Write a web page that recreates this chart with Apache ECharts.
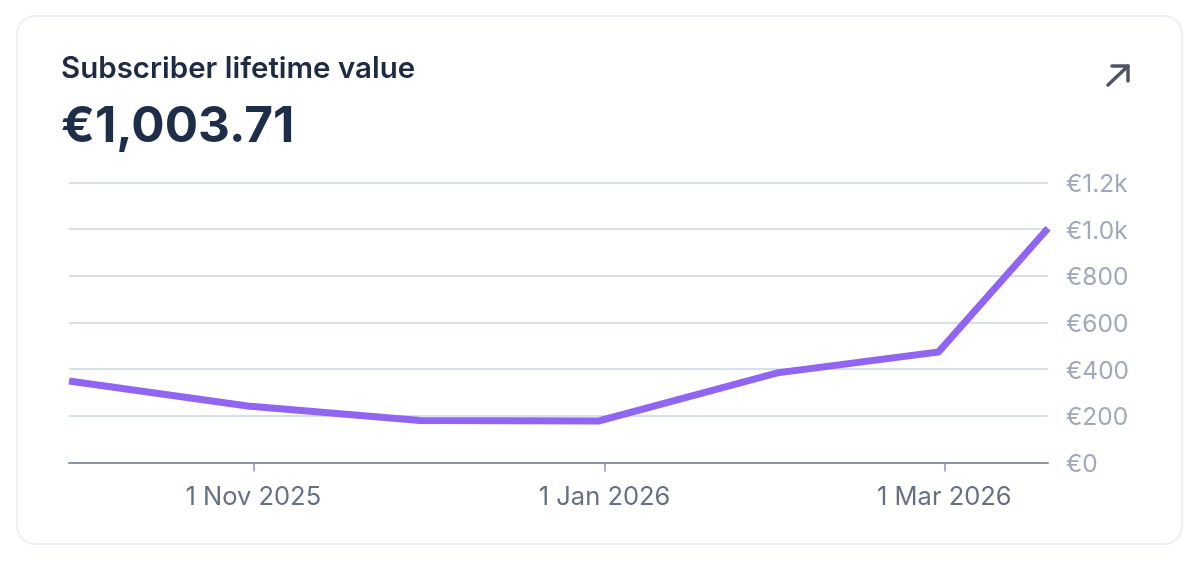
<!DOCTYPE html>
<html>

<head>
    <meta charset="UTF-8">
    <title>Subscriber lifetime value</title>
    <style>
        html, body { margin: 0; padding: 0; background: #fff; }
        #container { width: 1200px; height: 565px; }
    </style>
</head>

<body>
    <div id="container"></div>
    <script src="https://cdn.jsdelivr.net/npm/echarts@6/dist/echarts.min.js"></script>
    <script type="text/javascript">
        // data points sit on month ends, the last one on the latest day
        var dates = ['2025-09-30', '2025-10-31', '2025-11-30', '2025-12-31', '2026-01-31', '2026-02-28', '2026-03-19'];
        var ltv = [349, 242, 180, 178, 384, 474, 1003.71];

        var xTickDates = ['2025-11-01', '2026-01-01', '2026-03-01'];
        var xTickLabels = ['1 Nov 2025', '1 Jan 2026', '1 Mar 2026'];
        var yTicks = [0, 200, 400, 600, 800, 1000, 1200];
        var yTickLabels = ['€0', '€200', '€400', '€600', '€800', '€1.0k', '€1.2k'];

        var cardTitle = 'Subscriber lifetime value';
        var cardValue = '€1,003.71';

        function toTime(s) {
            var p = s.split('-');
            return Date.UTC(+p[0], +p[1] - 1, +p[2]);
        }

        var xTickTimes = xTickDates.map(toTime);
        var fontName = 'Inter';

        var myChart = echarts.init(document.getElementById('container'));
        var option = {
            backgroundColor: '#fff',
            animation: false,
            title: [{
                text: cardTitle,
                left: 61,
                top: 54,
                padding: 0,
                textStyle: { color: '#1e2b42', fontFamily: fontName, fontWeight: 600, fontSize: 29.5 }
            }, {
                text: cardValue,
                left: 61,
                top: 102,
                padding: 0,
                textStyle: { color: '#1e2e48', fontFamily: fontName, fontWeight: 700, fontSize: 49.5 }
            }],
            graphic: [{
                type: 'rect', // the card
                z: -10,
                silent: true,
                shape: { x: 17, y: 16, width: 1165, height: 528, r: 18 },
                style: { fill: '#fff', stroke: '#eceff3', lineWidth: 2 }
            }, {
                type: 'polyline', // arrow shaft
                silent: true,
                shape: { points: [[1108, 85], [1128, 66]] },
                style: { stroke: '#4f5563', lineWidth: 3.5, lineCap: 'round', fill: null }
            }, {
                type: 'polyline', // arrow head
                silent: true,
                shape: { points: [[1112, 66], [1128, 66], [1128, 81]] },
                style: { stroke: '#4f5563', lineWidth: 3.5, lineCap: 'round', lineJoin: 'round', fill: null }
            }],
            grid: { left: 69, right: 152, top: 182.5, bottom: 102.5, containLabel: false },
            tooltip: { show: false },
            xAxis: {
                // plain value axis on timestamps, the time axis throws on customValues
                type: 'value',
                scale: true,
                min: toTime(dates[0]),
                max: toTime(dates[dates.length - 1]),
                axisLine: { show: true, onZero: false, lineStyle: { color: '#8d94a9', width: 2 } },
                axisTick: {
                    show: true,
                    length: 9,
                    customValues: xTickTimes,
                    lineStyle: { color: '#8d94a9', width: 1.5 }
                },
                axisLabel: {
                    show: true,
                    customValues: xTickTimes,
                    margin: 22,
                    hideOverlap: false,
                    color: '#667085',
                    fontFamily: fontName,
                    fontSize: 25.5,
                    formatter: function (value) {
                        return xTickLabels[xTickTimes.indexOf(value)];
                    }
                },
                splitLine: { show: false }
            },
            yAxis: {
                type: 'value',
                position: 'right',
                min: yTicks[0],
                max: yTicks[yTicks.length - 1],
                interval: 200,
                axisLine: { show: false },
                axisTick: { show: false },
                axisLabel: {
                    margin: 18,
                    formatter: function (value) {
                        return '{tick|' + yTickLabels[yTicks.indexOf(value)] + '}';
                    },
                    rich: {
                        // top padding nudges the text a little below its grid line
                        tick: {
                            padding: [4, 0, 0, 0],
                            color: '#9fa9bb',
                            fontFamily: fontName,
                            fontSize: 24.5
                        }
                    }
                },
                splitLine: { show: true, lineStyle: { color: '#d7e0ea', width: 2 } }
            },
            series: [{
                name: cardTitle,
                type: 'line',
                data: dates.map(function (d, i) { return [toTime(d), ltv[i]]; }),
                symbol: 'none',
                smooth: false,
                clip: true,
                lineStyle: { color: '#9065f4', width: 7, join: 'miter' }
            }]
        };
        myChart.setOption(option);
    </script>
</body>

</html>
